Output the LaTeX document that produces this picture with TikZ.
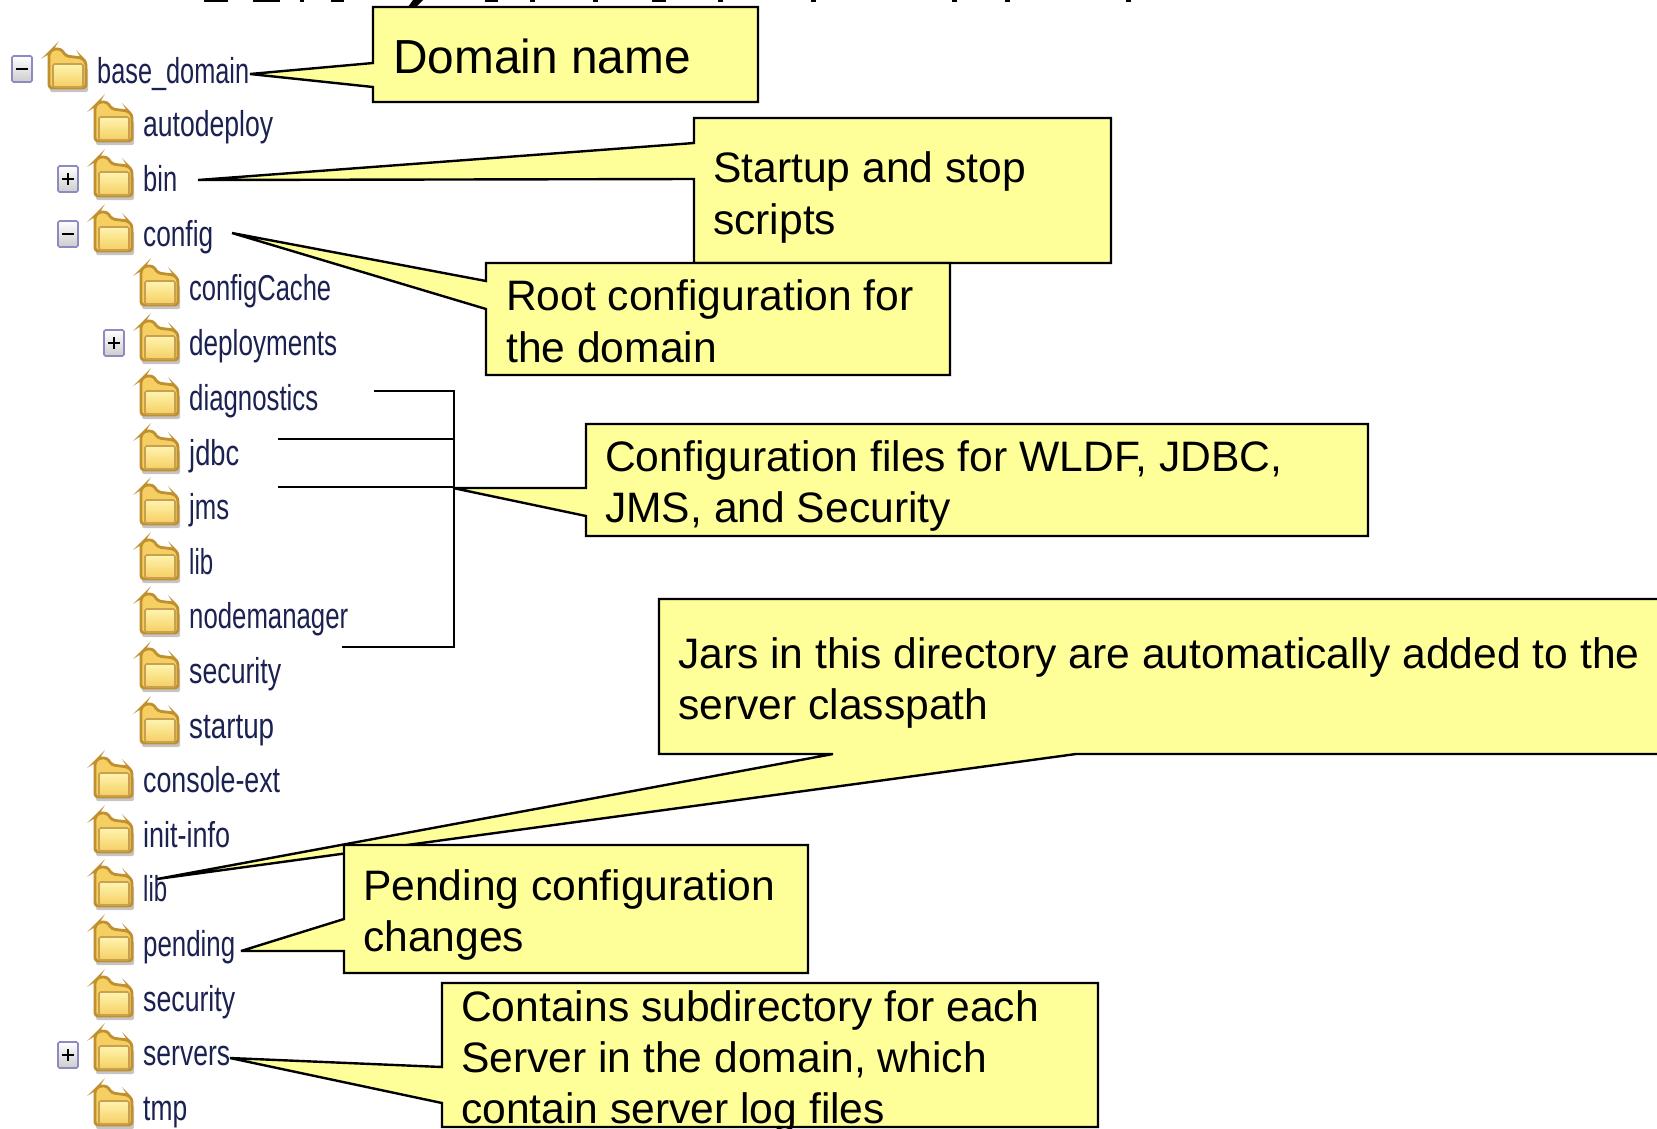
\documentclass[tikz,border=0pt]{standalone}
\usepackage{fontspec}
\setmainfont{Liberation Sans}
\definecolor{note}{HTML}{FFFF99}
\definecolor{treetext}{HTML}{1B2150}
\definecolor{foldline}{HTML}{C08F30}
\definecolor{foldlight}{HTML}{FFF4B0}
\definecolor{folddark}{HTML}{F5CF62}
\tikzset{
  x=1pt,y=-1pt,
  callout/.style={draw=black,fill=note,line width=2.4pt,line join=miter,miter limit=4},
  notetext/.style={anchor=base west,inner sep=0pt,font=\fontsize{42.6}{42.6}\selectfont,text=black},
  treelabel/.style={anchor=base west,inner sep=0pt,text=treetext},
  bracket/.style={draw=black,line width=2.8pt},
  expander/.style={draw=blue!30!gray!70,line width=1.6pt,top color=white,bottom color=gray!40,rounded corners=1.5pt},
  pics/folder/.style={code={
    \fill[black!45,opacity=.5,rounded corners=2pt] (-17,-6) rectangle (21,18);
    \path[draw=foldline,line width=2.8pt,rounded corners=3pt,fill=folddark]
      (-18,14) -- (-18,-21) -- (-14,-25) -- (-6,-25) -- (-1,-18) -- (15,-16) -- (19,-12) -- (19,14) -- cycle;
    \path[draw=foldline!85,line width=1.6pt,rounded corners=1.5pt,top color=foldlight,bottom color=folddark]
      (-14,13) -- (-14,-10) -- (16,-10) -- (16,13) -- cycle;
  }}
}
\newcommand{\treeitem}[5]{% name, x folder, y, text, width
  \pic at (#2,#3) {folder};
  \node[treelabel] (#1) at (#2+30,#3+9) {\resizebox{#5pt}{\height}{\fontsize{36}{36}\selectfont #4}};
}
\newcommand{\expand}[3]{% x, y, plus?
  \node[expander,minimum width=20pt,minimum height=26pt,inner sep=0pt] (exp#1#2) at (#1,#2) {};
  \draw[black,line width=2.4pt] (#1-6,#2) -- (#1+6,#2);
  \ifnum#3=1 \draw[black,line width=2.4pt] (#1,#2-6) -- (#1,#2+6);\fi
}
\begin{document}
\begin{tikzpicture}
\useasboundingbox (0,0) rectangle (1657,1128);
\clip (0,0) rectangle (1657,1128);
\fill[white] (0,0) rectangle (1657,1128);
% tree
\expand{22}{69}{0}
\expand{68}{179}{1}
\expand{68}{234}{0}
\expand{114}{343}{1}
\expand{68}{1055}{1}
\treeitem{tbase}{67}{74}{base\_domain}{152}
\treeitem{tauto}{113}{127}{autodeploy}{130}
\treeitem{tbin}{113}{182}{bin}{34}
\treeitem{tconfig}{113}{237}{config}{70}
\treeitem{tcache}{159}{291}{configCache}{142}
\treeitem{tdeploy}{159}{346}{deployments}{148}
\treeitem{tdiag}{159}{401}{diagnostics}{129}
\treeitem{tjdbc}{159}{456}{jdbc}{50}
\treeitem{tjms}{159}{510}{jms}{40}
\treeitem{tlib}{159}{565}{lib}{24}
\treeitem{tnode}{159}{619}{nodemanager}{159}
\treeitem{tsec}{159}{674}{security}{92}
\treeitem{tstart}{159}{729}{startup}{85}
\treeitem{tcons}{113}{783}{console-ext}{137}
\treeitem{tinit}{113}{838}{init-info}{87}
\treeitem{tlib2}{113}{892}{lib}{24}
\treeitem{tpend}{113}{947}{pending}{92}
\treeitem{tsec2}{113}{1002}{security}{92}
\treeitem{tserv}{113}{1056}{servers}{87}
\treeitem{ttmp}{113}{1111}{tmp}{44}
% cropped title remnants
\fill[black] (408,7) -- (416,7) -- (423,0) -- (413,0) -- cycle;
\foreach \a/\b in {204/228,253/280,300/304,331/344,485/498,530/535,593/598,652/666,718/723,811/816,952/957,1005/1010,1126/1131}
  \fill[black] (\a,0) rectangle (\b,1.5);
% bracket
\coordinate (bt) at (454,391);
\coordinate (bb) at (454,647);
\draw[bracket] (374,391) -- (bt) -- (bb) -- (342,647);
\draw[bracket] (278,439) -- (454,439);
\draw[bracket] (278,487) -- (454,487);
% callouts
\draw[callout] (373,7) -- (758,7) -- (758,102) -- (373,102) -- (373,87) -- (250,74) -- (373,63) -- cycle;
\node[notetext,font=\fontsize{47.8}{47.8}\selectfont] (domain) at (393,73) {Domain name};
\draw[callout] (694,118) -- (1111,118) -- (1111,263) -- (694,263) -- (694,179) -- (198,180) -- (694,143) -- cycle;
\node[notetext] (startup) at (713,182) {Startup and stop};
\node[notetext] (startupb) at (713,234) {scripts};
\draw[callout] (486,263) -- (950,263) -- (950,375) -- (486,375) -- (486,309) -- (232,233) -- (486,281) -- cycle;
\node[notetext] (root) at (506,310) {Root configuration for};
\node[notetext] (rootb) at (506,362) {the domain};
\draw[callout] (586,424) -- (1368,424) -- (1368,536) -- (586,536) -- (586,516) -- (453,488) -- (586,488) -- cycle;
\node[notetext] (cfg) at (605,471) {Configuration files for WLDF, JDBC,};
\node[notetext] (cfgb) at (605,522) {JMS, and Security};
\draw[callout] (659,599) -- (1670,599) -- (1670,754) -- (1076,754) -- (157,879) -- (833,754) -- (659,754) -- cycle;
\node[notetext] (jars) at (678,668) {Jars in this directory are automatically added to the};
\node[notetext] (jarsb) at (678,719) {server classpath};
\draw[callout] (344,845) -- (808,845) -- (808,973) -- (344,973) -- (344,951) -- (241,951) -- (344,919) -- cycle;
\node[notetext] (pend) at (363,900) {Pending configuration};
\node[notetext] (pendb) at (363,951) {changes};
\draw[callout] (442,983) -- (1098,983) -- (1098,1127) -- (442,1127) -- (442,1103) -- (230,1058) -- (442,1067) -- cycle;
\node[notetext] (cont) at (461,1021) {Contains subdirectory for each};
\node[notetext] (contb) at (461,1072) {Server in the domain, which};
\node[notetext] (contc) at (461,1123) {contain server log files};
\end{tikzpicture}
\end{document}
